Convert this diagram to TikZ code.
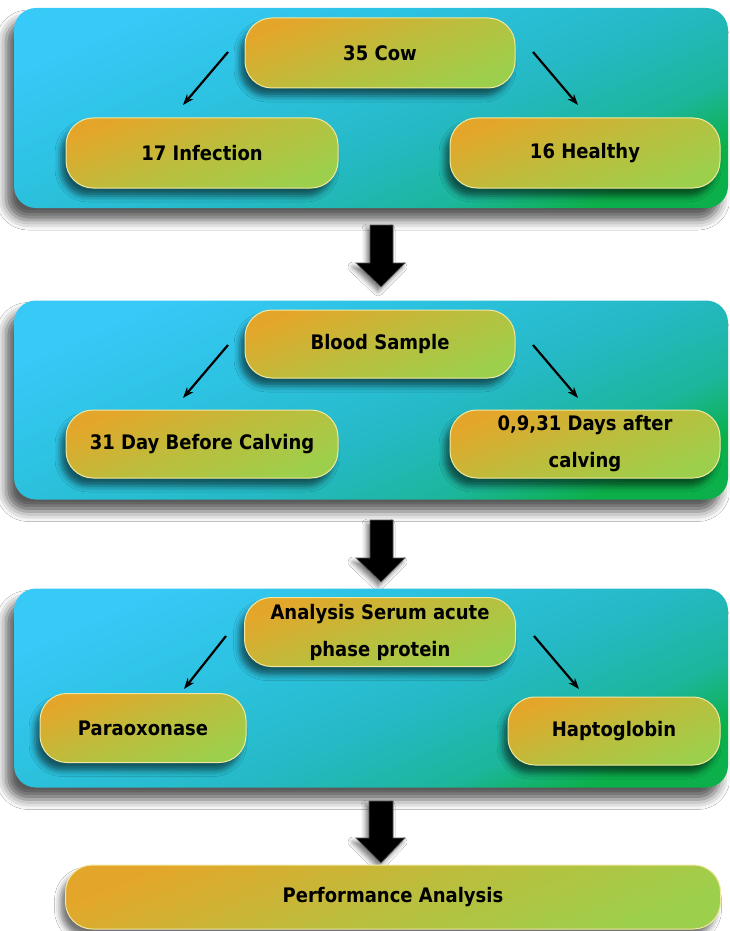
\documentclass[tikz,border=0pt]{standalone}
\usepackage{fontspec}
\setmainfont{DejaVu Sans}[FakeStretch=0.9]
\usetikzlibrary{shadows.blur,arrows.meta}
\definecolor{pA}{HTML}{37C9F8}
\definecolor{pA2}{HTML}{2CC2E0}
\definecolor{pB}{HTML}{25B9C6}
\definecolor{pB2}{HTML}{1BB69A}
\definecolor{pC}{HTML}{0CB04A}
\definecolor{oA}{HTML}{E4A62A}
\definecolor{oB}{HTML}{9CD04C}
\definecolor{rimc}{HTML}{F0E8A0}
\pgfdeclareverticalshading{panelsh}{100bp}{color(0bp)=(pC); color(25bp)=(pC); color(33bp)=(pB2); color(45bp)=(pB); color(60bp)=(pA2); color(75bp)=(pA); color(100bp)=(pA)}
\tikzset{
  panel/.style={rectangle, rounded corners=22pt, inner sep=0pt,
    shading=panelsh, shading angle=24,
    blur shadow={shadow xshift=-8pt, shadow yshift=-12pt, shadow blur radius=10pt, shadow opacity=65}},
  pill/.style={rectangle, rounded corners=27pt, inner sep=2pt, align=center,
    font=\bfseries\fontsize{20}{37}\selectfont,
    top color=oA, bottom color=oB, middle color=oA!45!oB, shading angle=22,
    draw=rimc, line width=1pt,
    blur shadow={shadow xshift=-5pt, shadow yshift=-8pt, shadow blur radius=6pt, shadow opacity=55}},
  thinarrow/.style={draw=black, line width=2.2pt, -{Stealth[length=11pt,width=8pt]}},
  bigarrow/.style={fill=black, draw=black!65, line width=0.7pt,
    blur shadow={shadow xshift=-3pt, shadow yshift=-4pt, shadow blur radius=5pt, shadow opacity=55}},
}
\begin{document}
\begin{tikzpicture}[x=1pt,y=-1pt]
\useasboundingbox (0,0) rectangle (729,931);
\fill[white] (0,0) rectangle (729,931);

% ---------- Panel 1
\node[panel, minimum width=714pt, minimum height=200pt] (p1) at (371,108) {};
\node[pill, minimum width=270pt, minimum height=70pt] (cow) at (380,53) {35 Cow};
\node[pill, minimum width=272pt, minimum height=70pt] (inf) at (202,153) {17 Infection};
\node[pill, minimum width=270pt, minimum height=70pt] (hea) at (585,153) {16 Healthy};
\coordinate (a1s) at (228,52); \coordinate (a1e) at (183,105);
\coordinate (a2s) at (533,52); \coordinate (a2e) at (578,105);
\draw[thinarrow] (a1s) -- (a1e);
\draw[thinarrow] (a2s) -- (a2e);

% big arrow 1
\path[bigarrow] (370,225) -- (393,225) -- (393,263) -- (405,263) -- (381,287) -- (356,263) -- (370,263) -- cycle;

% ---------- Panel 2
\node[panel, minimum width=714pt, minimum height=199pt] (p2) at (371,400) {};
\node[pill, minimum width=270pt, minimum height=68pt] (blood) at (380,344) {Blood Sample};
\node[pill, minimum width=272pt, minimum height=68pt] (before) at (202,444) {31 Day Before Calving};
\node[pill, minimum width=270pt, minimum height=68pt] (after) at (585,444) {0,9,31 Days after\\calving};
\coordinate (b1s) at (228,345); \coordinate (b1e) at (183,398);
\coordinate (b2s) at (533,345); \coordinate (b2e) at (578,398);
\draw[thinarrow] (b1s) -- (b1e);
\draw[thinarrow] (b2s) -- (b2e);

% big arrow 2
\path[bigarrow] (370,520) -- (393,520) -- (393,558) -- (405,558) -- (381,582) -- (356,558) -- (370,558) -- cycle;

% ---------- Panel 3
\node[panel, minimum width=714pt, minimum height=199pt] (p3) at (371,688) {};
\node[pill, minimum width=271pt, minimum height=69pt] (ana) at (380,632) {Analysis Serum acute\\phase protein};
\node[pill, minimum width=206pt, minimum height=69pt] (para) at (143,728) {Paraoxonase};
\node[pill, minimum width=212pt, minimum height=68pt] (hapt) at (614,731) {Haptoglobin};
\coordinate (c1s) at (226,636); \coordinate (c1e) at (184,689);
\coordinate (c2s) at (534,636); \coordinate (c2e) at (579,689);
\draw[thinarrow] (c1s) -- (c1e);
\draw[thinarrow] (c2s) -- (c2e);

% big arrow 3
\path[bigarrow] (369,801) -- (393,801) -- (393,838) -- (405,838) -- (381,863) -- (356,838) -- (369,838) -- cycle;

% ---------- Final
\node[pill, minimum width=655pt, minimum height=64pt] (perf) at (393,897) {Performance Analysis};
\end{tikzpicture}
\end{document}
